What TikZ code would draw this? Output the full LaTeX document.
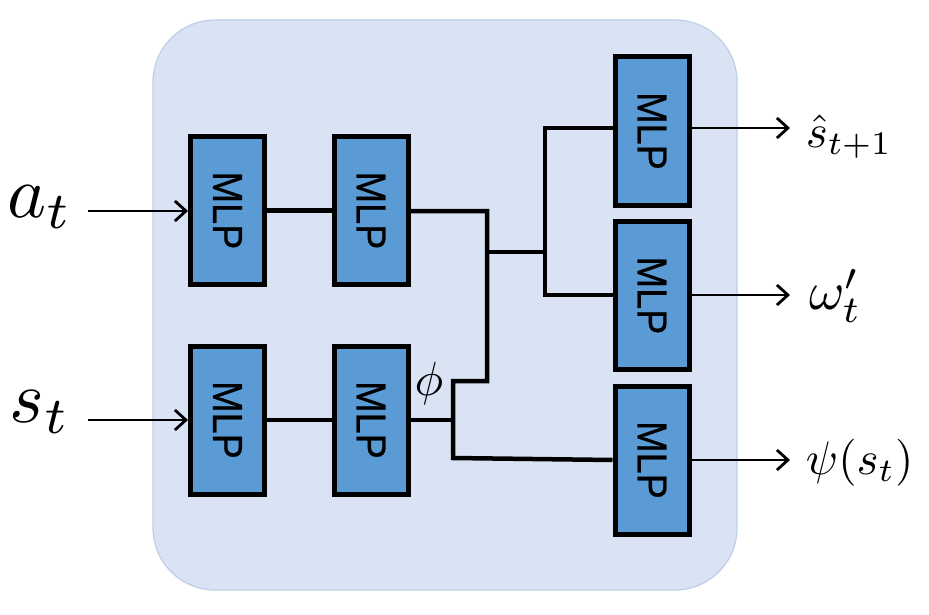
\documentclass[tikz,border=0pt]{standalone}
\usepackage{fontspec}
\newfontfamily\mlpfont[FakeBold=0.6]{Liberation Sans}
\usetikzlibrary{arrows.meta}
\definecolor{bgfill}{RGB}{218,227,243}
\definecolor{bgline}{RGB}{190,206,234}
\definecolor{mlpfill}{RGB}{91,155,213}
\newcommand{\mlptext}{\rotatebox{-90}{\scalebox{0.9}[1]{MLP}}}
\begin{document}
\begin{tikzpicture}[x=1pt,y=-1pt,
  mlp/.style={draw=black,fill=mlpfill,line width=5pt,minimum width=74pt,minimum height=148pt,inner sep=0pt,
    font=\mlpfont\fontsize{42}{44}\selectfont},
  wire/.style={line width=4.5pt,line cap=butt},
  arr/.style={line width=2.8pt,-{Straight Barb[length=11pt,width=20pt,line width=2.8pt]}},
  bigmath/.style={scale=7.4,inner sep=0pt},
  outmath/.style={scale=4.7,inner sep=0pt,anchor=west}]
\useasboundingbox (0,0) rectangle (929,615);
\fill[white] (0,0) rectangle (929,615);
\draw[fill=bgfill,draw=bgline,line width=1.2pt,rounded corners=62pt] (153,20) rectangle (737,590);

\node[mlp] (m1) at (227.5,210.5) {\mlptext};
\node[mlp] (m2) at (371,210.5) {\mlptext};
\node[mlp] (m3) at (227.5,420) {\mlptext};
\node[mlp] (m4) at (371,420) {\mlptext};
\node[mlp] (m5) at (652,131) {\mlptext};
\node[mlp] (m6) at (652,295.5) {\mlptext};
\node[mlp] (m7) at (652,460) {\mlptext};

\node[bigmath] (at) at (40,207) {$a_t$};
\node[bigmath] (st) at (40,412) {$s_t$};
\coordinate (ain) at (88,211);
\coordinate (sin) at (88,420);

\draw[arr] (ain) -- (m1.west |- ain);
\draw[arr] (sin) -- (m3.west);
\draw[wire] (m1.east) -- (m2.west);
\draw[wire] (m3.east) -- (m4.west);

\coordinate (j1) at (487,211);
\coordinate (j2) at (487,381);
\coordinate (j3) at (453,381);
\coordinate (j4) at (453,420);
\coordinate (j5) at (453,458);
\coordinate (k1) at (487,252);
\coordinate (k2) at (545,252);
\coordinate (k3) at (545,128);
\coordinate (k4) at (545,295);

\draw[wire] (m2.east |- j1) -- (j1) -- (j2) -- (j3) -- (j5) -- (m7.west);
\draw[wire] (m4.east) -- (j4);
\draw[wire] (k1) -- (k2);
\draw[wire] (m5.west |- k3) -- (k3) -- (k4) -- (m6.west |- k4);

\node[scale=4.8,inner sep=0pt] (phi) at (429,383) {$\phi$};

\coordinate (o1) at (790,128);
\coordinate (o2) at (790,295);
\coordinate (o3) at (790,460);
\draw[arr] (m5.east |- o1) -- (o1);
\draw[arr] (m6.east |- o2) -- (o2);
\draw[arr] (m7.east) -- (o3);

\node[outmath] (l1) at (805,137) {$\hat{s}_{t+1}$};
\node[scale=5.4,inner sep=0pt,anchor=west] (l2) at (808,296) {$\omega'_t$};
\node[outmath] (l3) at (805,463) {$\psi(s_t)$};
\end{tikzpicture}
\end{document}
